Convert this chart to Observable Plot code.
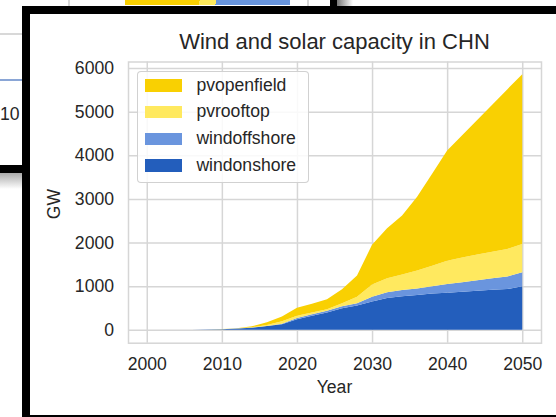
<!DOCTYPE html>
<html>
<head>
<meta charset="utf-8">
<script src="https://cdn.jsdelivr.net/npm/d3@7"></script>
<script src="https://cdn.jsdelivr.net/npm/@observablehq/plot@0.6"></script>
<style>
  body { margin: 0; width: 556px; height: 417px; overflow: hidden; background: #fff; position: relative;
         font-family: Arial, "Liberation Sans", sans-serif; color: #262626; }
  .abs { position: absolute; }
  .lbl { position: absolute; font-size: 17.6px; line-height: 17.6px; white-space: nowrap; }
</style>
</head>
<body>
<!-- window behind: bits of another chart peeking out -->
<div class="abs" style="left:68px;top:0;width:2px;height:6px;background:#d8d8d8"></div>
<div class="abs" style="left:125px;top:0;width:165px;height:5px;background:linear-gradient(100deg,#f9d002 0 45%,#fde95c 45% 55%,#6895dd 55%)"></div>
<div class="abs" style="left:307px;top:0;width:2px;height:6px;background:#d8d8d8"></div>
<div class="abs" style="left:330px;top:0;width:7px;height:6px;background:#000"></div>
<div class="abs" style="left:337px;top:0;width:16px;height:6px;background:linear-gradient(to right,#777,#fff)"></div>
<div class="abs" style="left:0;top:33px;width:22px;height:2px;background:#d8d8d8"></div>
<div class="abs" style="left:0;top:79px;width:22px;height:2px;background:#8aa6d6"></div>
<div class="lbl" style="left:0;top:106px;">10</div>
<div class="abs" style="left:0;top:165px;width:22px;height:8px;background:#000"></div>
<div class="abs" style="left:0;top:173px;width:22px;height:16px;background:linear-gradient(#aaa,#fff)"></div>

<!-- front window -->
<div class="abs" style="left:22px;top:6px;width:534px;height:411px;background:#000"></div>
<div class="abs" style="left:30px;top:14px;width:526px;height:401px;background:#fff"></div>

<div id="chart" class="abs" style="left:0;top:0"></div>
<div id="title" class="abs" style="left:128px;top:31.4px;width:413px;text-align:center;font-size:22px;line-height:22px;white-space:nowrap"></div>
<div id="xlabel" class="lbl" style="left:128px;top:379.4px;width:413px;text-align:center"></div>
<div id="ylabel" class="lbl" style="left:55px;top:204px;transform:translate(-50%,-50%) rotate(-90deg)"></div>
<div id="legend" class="abs" style="left:137px;top:70.7px;width:170px;height:110.6px;border:1.3px solid rgba(204,204,204,0.9);border-radius:4px;background:rgba(255,255,255,0.85)"></div>

<script>
// Installed capacity (GW) by technology, every two years
const years = [2000,2002,2004,2006,2008,2010,2012,2014,2016,2018,2020,2022,2024,2026,2028,2030,2032,2034,2036,2038,2040,2042,2044,2046,2048,2050];
const windonshore  = [0,0,0,2,6,15,30,50,85,130,245,325,400,495,555,650,730,770,800,830,850,870,895,920,935,1000];
const windoffshore = [0,0,0,0,0,0,1,2,5,10,25,30,35,45,55,110,130,145,150,170,200,220,240,260,285,320];
const pvrooftop    = [0,0,0,0,0,2,4,8,20,55,55,45,35,70,150,280,320,355,410,470,535,565,590,610,635,650];
const pvopenfield  = [0,0,0,0,0,1,3,20,66,111,180,200,230,320,485,910,1150,1350,1690,2110,2527,2805,3085,3370,3655,3890];

// Legend order (top to bottom) and colours
const seriesNames = ["pvopenfield", "pvrooftop", "windoffshore", "windonshore"];
const seriesColors = ["#f9d002", "#ffe95f", "#6a95de", "#235ebc"];
const stackOrder = ["windonshore", "windoffshore", "pvrooftop", "pvopenfield"];

const xTicks = [2000, 2010, 2020, 2030, 2040, 2050];
const yTicks = [0, 1000, 2000, 3000, 4000, 5000, 6000];

const titleText = "Wind and solar capacity in CHN";
const xLabel = "Year";
const yLabel = "GW";

const values = {windonshore, windoffshore, pvrooftop, pvopenfield};
const rows = [];
for (const s of stackOrder) {
  years.forEach((yr, i) => rows.push({year: yr, series: s, value: values[s][i]}));
}

const grid = "#d6d6d6";
const chart = Plot.plot({
  width: 556,
  height: 417,
  marginLeft: 128,
  marginRight: 15,
  marginTop: 61.5,
  marginBottom: 74.3,
  style: {background: "transparent", fontFamily: "Arial, 'Liberation Sans', sans-serif", fontSize: "17.6px", color: "#262626"},
  x: {domain: [1997.5, 2052.5]},
  y: {domain: [-295, 6150]},
  color: {domain: seriesNames, range: seriesColors},
  marks: [
    Plot.gridX(xTicks, {stroke: grid, strokeOpacity: 1, strokeWidth: 1.5}),
    Plot.gridY(yTicks, {stroke: grid, strokeOpacity: 1, strokeWidth: 1.5}),
    Plot.areaY(rows, {x: "year", y: "value", fill: "series", z: "series", order: stackOrder, curve: "linear"}),
    Plot.frame({stroke: grid, strokeWidth: 1.5}),
    Plot.axisX(xTicks, {tickSize: 0, tickPadding: 14.5, tickFormat: "d", label: null}),
    Plot.axisY(yTicks, {tickSize: 0, tickPadding: 14.5, tickFormat: "d", label: null})
  ]
});
document.getElementById("chart").appendChild(chart);

document.getElementById("title").textContent = titleText;
document.getElementById("xlabel").textContent = xLabel;
document.getElementById("ylabel").textContent = yLabel;

// Legend swatches read their colours from the chart's colour scale
const color = chart.scale("color");
const legend = document.getElementById("legend");
seriesNames.forEach((name, i) => {
  const cy = 13.8 + i * 26.7;
  const sw = document.createElement("div");
  sw.style.cssText = `position:absolute;left:7px;top:${cy - 6.2}px;width:36.7px;height:12.4px;background:${color.apply(name)}`;
  legend.appendChild(sw);
  const tx = document.createElement("div");
  tx.className = "lbl";
  tx.style.cssText = `left:58.4px;top:${cy - 8.8}px`;
  tx.textContent = name;
  legend.appendChild(tx);
});
</script>
</body>
</html>
